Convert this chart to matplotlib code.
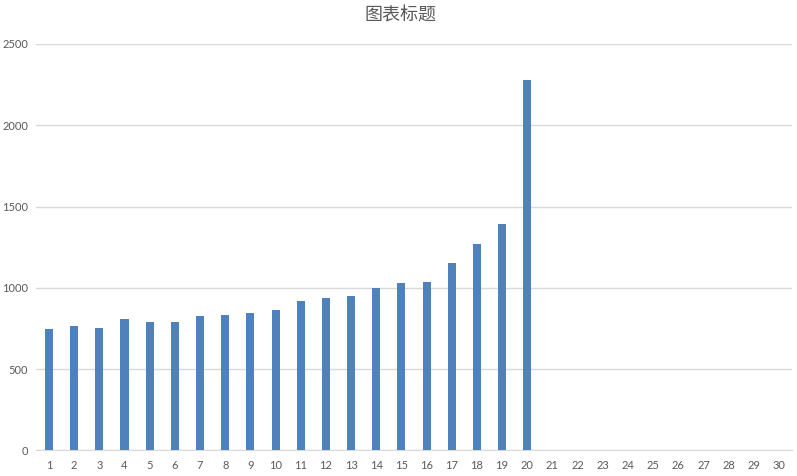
import matplotlib.pyplot as plt

plt.rcParams['font.family'] = ['Lato', 'Noto Sans CJK SC', 'DejaVu Sans']

days = list(range(1, 31))
values = [749, 767, 755, 805, 792, 792, 829, 835, 842, 866,
          916, 940, 947, 996, 1027, 1033, 1150, 1267, 1391, 2279,
          0, 0, 0, 0, 0, 0, 0, 0, 0, 0]
title = "图表标题"

fig = plt.figure(figsize=(7.97, 4.76), dpi=100)
ax = fig.add_axes([0.0457, 0.054, 0.9475, 0.8536])

ax.bar(days, values, width=0.32, color='#4f81bd', zorder=3)

ax.set_xlim(0.5, 30.5)
ax.set_ylim(0, 2500)
ax.set_yticks([0, 500, 1000, 1500, 2000, 2500])
ax.set_xticks(days)
ax.yaxis.grid(True, color='#d9d9d9', linewidth=1)
ax.set_axisbelow(True)

for side in ['top', 'right', 'left']:
    ax.spines[side].set_visible(False)
ax.spines['bottom'].set_color('#d9d9d9')
ax.tick_params(axis='both', length=0, labelsize=8, colors='#595959')
ax.tick_params(axis='x', pad=7)
ax.tick_params(axis='y', pad=6)

fig.text(0.502, 0.968, title, ha='center', va='center', fontsize=13, color='#595959')

fig.savefig('out.png', dpi=100)
